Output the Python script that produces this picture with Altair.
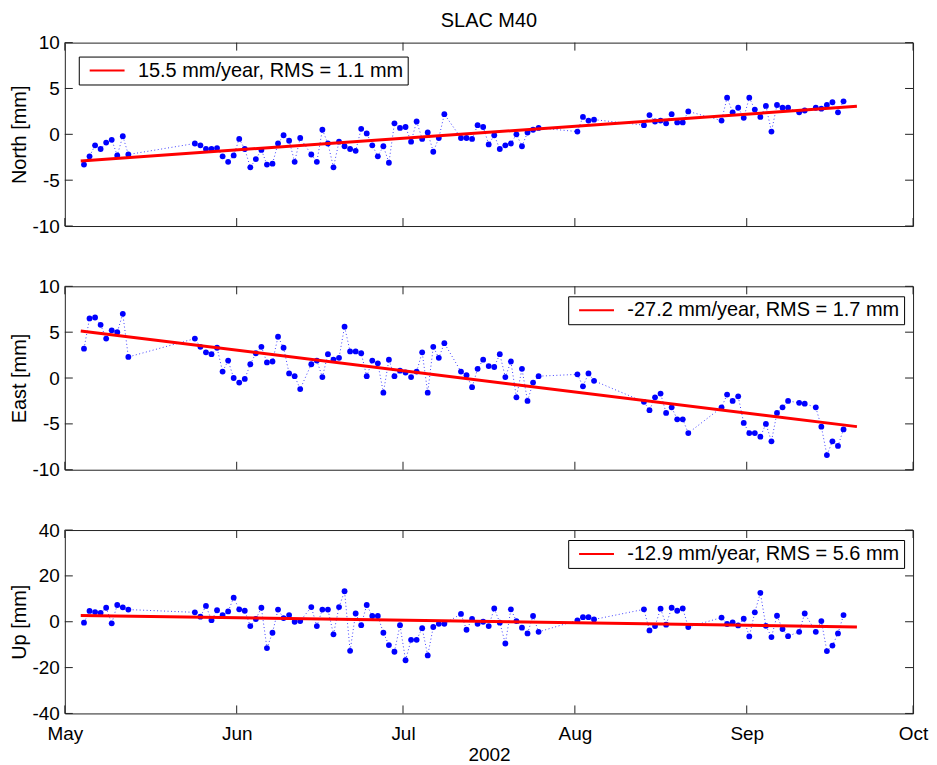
import altair as alt
import pandas as pd

# ---- data ----
obs_dates = [
    "05-04", "05-05", "05-06", "05-07", "05-08", "05-09", "05-10", "05-11", "05-12",
    "05-24", "05-25", "05-26", "05-27", "05-28", "05-29", "05-30", "05-31", "06-01", "06-02",
    "06-03", "06-04", "06-05", "06-06", "06-07", "06-08", "06-09", "06-10", "06-11", "06-12",
    "06-14", "06-15", "06-16", "06-17", "06-18", "06-19", "06-20", "06-21", "06-22", "06-23",
    "06-24", "06-25", "06-26", "06-27", "06-28", "06-29", "06-30", "07-01", "07-02", "07-03",
    "07-04", "07-05", "07-06", "07-07", "07-08",
    "07-11", "07-12", "07-13", "07-14", "07-15", "07-16", "07-17", "07-18", "07-19", "07-20",
    "07-21", "07-22", "07-23", "07-24", "07-25",
    "08-01", "08-02", "08-03", "08-04",
    "08-13", "08-14", "08-15", "08-16", "08-17", "08-18", "08-19", "08-20", "08-21",
    "08-27", "08-28", "08-29", "08-30", "08-31", "09-01", "09-02", "09-03", "09-04", "09-05",
    "09-06", "09-07", "09-08",
    "09-10", "09-11",
    "09-13", "09-14", "09-15", "09-16", "09-17", "09-18",
]

north = [
    -3.3, -2.4, -1.2, -1.6, -0.9, -0.6, -2.3, -0.2, -2.2,
    -1.0, -1.2, -1.6, -1.6, -1.5, -2.4, -3.0, -2.3, -0.5, -1.6,
    -3.6, -2.7, -1.7, -3.3, -3.2, -1.0, -0.1, -0.7, -3.0, -0.4,
    -2.2, -3.0, 0.5, -1.0, -3.6, -0.8, -1.3, -1.6, -1.8, 0.6,
    0.1, -1.2, -2.4, -1.3, -3.1, 1.2, 0.7, 0.8, -0.8, 1.4,
    -0.5, 0.2, -1.9, -0.4, 2.2,
    -0.4, -0.4, -0.5, 1.0, 0.8, -1.1, -0.1, -1.6, -1.2, -1.0,
    0.0, -1.3, 0.2, 0.5, 0.7,
    0.3, 1.9, 1.5, 1.6,
    1.0, 2.1, 1.4, 1.5, 1.2, 2.2, 1.3, 1.3, 2.5,
    1.5, 4.0, 2.4, 2.9, 1.8, 4.0, 2.7, 1.9, 3.1, 0.3,
    3.2, 2.9, 2.9,
    2.4, 2.6,
    2.9, 2.8, 3.2, 3.5, 2.4, 3.6,
]

east = [
    3.2, 6.5, 6.6, 5.8, 4.3, 5.2, 5.0, 7.0, 2.3,
    4.3, 3.4, 2.8, 2.6, 3.3, 0.7, 1.9, 0.0, -0.5, -0.1,
    1.5, 2.7, 3.4, 1.7, 1.8, 4.5, 3.3, 0.5, 0.2, -1.2,
    1.5, 1.9, 0.1, 2.6, 2.0, 2.2, 5.6, 2.9, 2.9, 2.7,
    0.2, 1.9, 1.6, -1.6, 2.0, 0.2, 0.8, 0.6, 0.1, 0.7,
    2.8, -1.6, 3.4, 2.2, 3.8,
    0.7, 0.3, -1.0, 1.0, 2.0, 1.3, 1.2, 2.6, 0.1, 1.8,
    -2.1, 1.0, -2.5, -0.5, 0.2,
    0.4, -0.9, 0.5, -0.3,
    -2.6, -3.5, -2.1, -1.7, -3.8, -3.2, -4.5, -4.5, -6.0,
    -3.2, -1.8, -2.5, -2.0, -4.9, -6.0, -6.0, -6.4, -5.0, -6.9,
    -3.8, -3.2, -2.5,
    -2.7, -2.8,
    -3.2, -5.3, -8.4, -6.9, -7.4, -5.6,
]

up = [
    -0.4, 4.7, 4.2, 3.9, 6.1, -0.7, 7.3, 6.3, 5.3,
    4.1, 2.2, 6.9, 0.7, 5.0, 2.9, 4.5, 10.5, 5.4, 4.8,
    -1.9, 1.2, 6.1, -11.5, -4.8, 5.3, 1.6, 2.9, 0.0, 0.3,
    6.4, -1.9, 5.3, 5.3, -5.5, 6.4, 13.3, -12.7, 3.6, -1.5,
    7.3, 2.5, 2.5, -4.8, -10.2, -13.1, -1.5, -16.8, -7.9, -7.9,
    -2.8, -14.7, -2.3, -0.9, -0.9,
    3.4, -3.5, 1.2, -0.9, 0.0, -1.9, 5.8, -0.4, -9.5, 5.4,
    0.3, -2.6, -5.1, 2.5, -4.4,
    0.6, 2.0, 2.0, 1.0,
    5.4, -3.8, -1.9, 5.7, -1.3, 6.1, 4.8, 5.8, -2.3,
    1.8, -1.0, -0.3, -1.6, 1.3, -6.4, 4.1, 12.6, -1.8, -6.7,
    2.6, -3.2, -6.3,
    -4.4, 3.6,
    -4.4, 0.3, -12.8, -10.4, -5.1, 2.9,
]

fit_dates = ["2002-05-03T21:00:00", "2002-09-20T21:00:00"]
north_fit = [-2.9, 3.05]
east_fit = [5.13, -5.3]
up_fit = [2.7, -2.25]

labels = [
    "15.5 mm/year, RMS = 1.1 mm",
    "-27.2 mm/year, RMS = 1.7 mm",
    "-12.9 mm/year, RMS = 5.6 mm",
]
y_titles = ["North [mm]", "East [mm]", "Up [mm]"]
north_ticks = [-10, -5, 0, 5, 10]
east_ticks = [-10, -5, 0, 5, 10]
up_ticks = [-40, -20, 0, 20, 40]
month_ticks = ["2002-05-01T00:00:00", "2002-06-01T00:00:00", "2002-07-01T00:00:00",
               "2002-08-01T00:00:00", "2002-09-01T00:00:00", "2002-10-01T00:00:00"]
month_nums = [5, 6, 7, 8, 9, 10]

# ---- layout / style ----
W, H = 851, 184
FONT = "Liberation Sans"
TICK = 8
FRAME = "#222222"


def panel(vals, fit, yticks, ytitle, label, orient, offset, bottom):
    obs = pd.DataFrame({"date": ["2002-" + d + "T11:00:00" for d in obs_dates], "v": vals})
    fdf = pd.DataFrame({"date": fit_dates, "v": fit, "label": [label, label]})
    ydf = pd.DataFrame({"v": yticks})
    xdf = pd.DataFrame({"date": month_ticks})

    xscale = alt.Scale(domain=[alt.DateTime(year=2002, month=5, date=1),
                               alt.DateTime(year=2002, month=10, date=1)], nice=False)
    yscale = alt.Scale(domain=[yticks[0], yticks[-1]], nice=False, zero=False)

    if bottom:
        xaxis = alt.Axis(values=[alt.DateTime(year=2002, month=m, date=1) for m in month_nums],
                         format="%b", title="2002", labelFontSize=19, titleFontSize=19,
                         labelPadding=11, titlePadding=2, labelFlush=False, labelOverlap=False)
    else:
        xaxis = None
    yaxis = alt.Axis(values=yticks, title=ytitle, labelExpr="toString(datum.value)",
                     labelFontSize=19, titleFontSize=20, labelPadding=5.5, titlePadding=2,
                     labelOverlap=False)

    X = alt.X("date:T", scale=xscale, axis=xaxis)
    Y = alt.Y("v:Q", scale=yscale, axis=yaxis)

    dotted = alt.Chart(obs).mark_line(color="#0000ff", strokeWidth=1, strokeDash=[1, 2.5],
                                      opacity=0.75).encode(x=X, y=Y)
    pts = alt.Chart(obs).mark_circle(color="#0000ff", size=34, opacity=1).encode(x=X, y=Y)
    fitline = alt.Chart(fdf).mark_line(strokeWidth=3, strokeCap="butt").encode(
        x=X, y=Y,
        color=alt.Color("label:N",
                        scale=alt.Scale(domain=[label], range=["#ff0000"]),
                        legend=alt.Legend(title=None, orient=orient, offset=offset,
                                          fillColor="white", strokeColor="black",
                                          padding=4, symbolType="M-2.5,0H2.5",
                                          symbolSize=196, symbolStrokeWidth=2,
                                          symbolOffset=14.45, labelOffset=20.9,
                                          labelFont=FONT, labelFontSize=20,
                                          labelColor="black", labelLimit=600)))
    ytl = alt.Chart(ydf).mark_rule(color=FRAME, strokeWidth=1).encode(
        y=Y, x=alt.value(0), x2=alt.value(TICK))
    ytr = alt.Chart(ydf).mark_rule(color=FRAME, strokeWidth=1).encode(
        y=Y, x=alt.value(W - TICK), x2=alt.value(W))
    xtt = alt.Chart(xdf).mark_rule(color=FRAME, strokeWidth=1).encode(
        x=X, y=alt.value(0), y2=alt.value(TICK))
    xtb = alt.Chart(xdf).mark_rule(color=FRAME, strokeWidth=1).encode(
        x=X, y=alt.value(H - TICK), y2=alt.value(H))

    return alt.layer(ytl, ytr, xtt, xtb, dotted, pts, fitline).properties(width=W, height=H)


p1 = panel(north, north_fit, north_ticks, y_titles[0], labels[0], "top-left", 14, False)
p2 = panel(east, east_fit, east_ticks, y_titles[1], labels[1], "top-right", 9.5, False)
p3 = panel(up, up_fit, up_ticks, y_titles[2], labels[2], "top-right", 9.5, True)

chart = alt.vconcat(
    p1, p2, p3, spacing=60.5, bounds="flush",
    title=alt.TitleParams("SLAC M40", font=FONT, fontSize=20, fontWeight="normal",
                          color="black", anchor="middle", frame="group", offset=2),
).resolve_scale(
    x="independent", y="independent", color="independent"
).properties(
    padding={"left": 1, "top": 1.5, "right": 0, "bottom": 0}, background="white"
).configure(
    font=FONT
).configure_view(
    stroke=FRAME, strokeWidth=1
).configure_axis(
    labelFont=FONT, titleFont=FONT, labelColor="black", titleColor="black",
    titleFontWeight="normal", grid=False, domain=False, ticks=False, tickSize=0
)

chart.save("out.html", embed_options={"renderer": "svg", "actions": False})
